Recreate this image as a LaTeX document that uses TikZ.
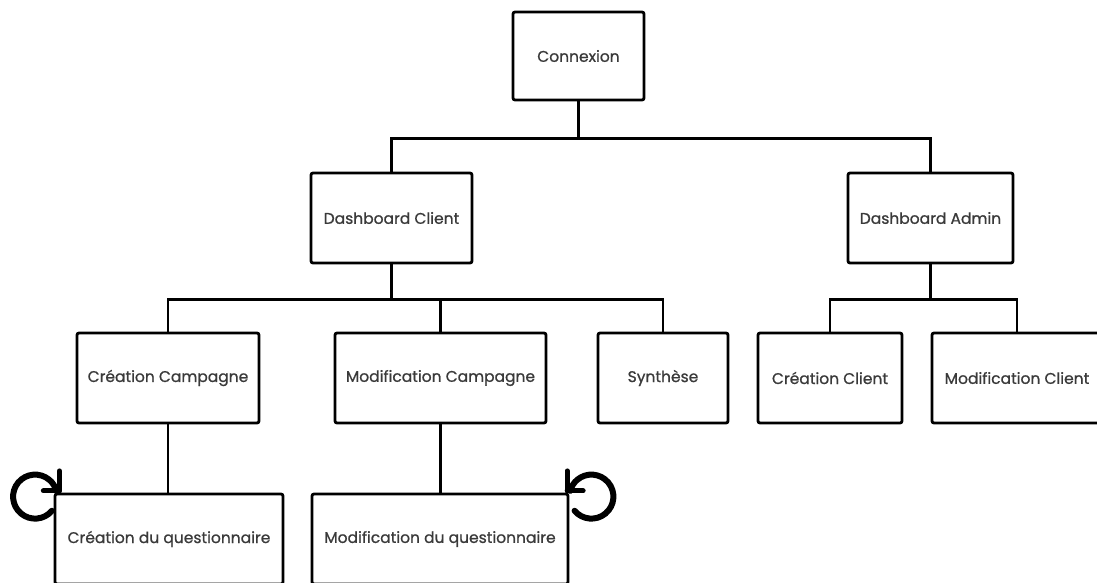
\documentclass[tikz,border=0pt]{standalone}
\usepackage{fontspec}
\setmainfont{Poppins}
\newfontfamily\lblfont{Poppins}[FakeBold=0.9]
\usetikzlibrary{calc}
\definecolor{txt}{HTML}{3A3A3A}
\tikzset{
  box/.style={draw=black, line width=2.8pt, rounded corners=2pt, rectangle, inner sep=0pt,
    minimum height=90pt, text=txt, font=\lblfont\fontsize{15.5}{18}\selectfont},
  wire/.style={draw=black, line width=2.8pt, line cap=round},
  loopline/.style={draw=black, line width=6pt, line cap=round},
  barb/.style={draw=black, line width=5pt, line cap=round}
}
\begin{document}
\begin{tikzpicture}[x=1pt,y=-1pt]
\useasboundingbox (0,0) rectangle (1097,582);
\clip (0,0) rectangle (1097,582);
% boxes
\node[box, minimum width=131pt, minimum height=88pt] (conn) at (578.5,56) {Connexion};
\node[box, minimum width=161pt] (dc) at (391.5,218) {Dashboard Client};
\node[box, minimum width=165pt] (da) at (930.5,218) {Dashboard Admin};
\node[box, minimum width=182pt] (cc) at (168,378) {Création Campagne};
\node[box, minimum width=211pt] (mc) at (440.5,378) {Modification Campagne};
\node[box, minimum width=130pt] (syn) at (663,378) {Synthèse};
\node[box, minimum width=144pt] (ccl) at (830,378) {Création Client};
\node[box, minimum width=170pt] (mcl) at (1017,378) {Modification Client};
\node[box, minimum width=228pt] (cq) at (169,539) {Création du questionnaire};
\node[box, minimum width=256pt] (mq) at (440,539) {Modification du questionnaire};
% connectors
\draw[wire] (conn.south) -- ++(0,37) -| (dc.north);
\draw[wire] (conn.south) -- ++(0,37) -| (da.north);
\draw[wire] (dc.south) -- ++(0,35) -| (cc.north);
\draw[wire] (dc.south) -- ++(0,35) -| (mc.north);
\draw[wire] (dc.south) -- ++(0,35) -| (syn.north);
\draw[wire] (da.south) -- ++(0,35) -| (ccl.north);
\draw[wire] (da.south) -- ++(0,35) -| (mcl.north);
\draw[wire] (cc.south) -- (cc.south |- cq.north);
\draw[wire] (mc.south) -- (mc.south |- mq.north);
% self loops
\coordinate (lc) at ([shift={(-18.5,4)}]cq.north west);
\draw[loopline] ($(lc)+(-40:22pt)$) arc[start angle=-40, end angle=-345, radius=22pt] coordinate (lt);
\draw[barb] ([xshift=3]lt) -- ++(0,-20);
\draw[barb] ([xshift=3]lt) -- ++(-16,0);
\coordinate (rc) at ([shift={(22,4)}]mq.north east);
\draw[loopline] ($(rc)+(-140:22pt)$) arc[start angle=-140, end angle=165, radius=22pt] coordinate (rt);
\draw[barb] ([xshift=-3]rt) -- ++(0,-20);
\draw[barb] ([xshift=-3]rt) -- ++(16,0);
\end{tikzpicture}
\end{document}
